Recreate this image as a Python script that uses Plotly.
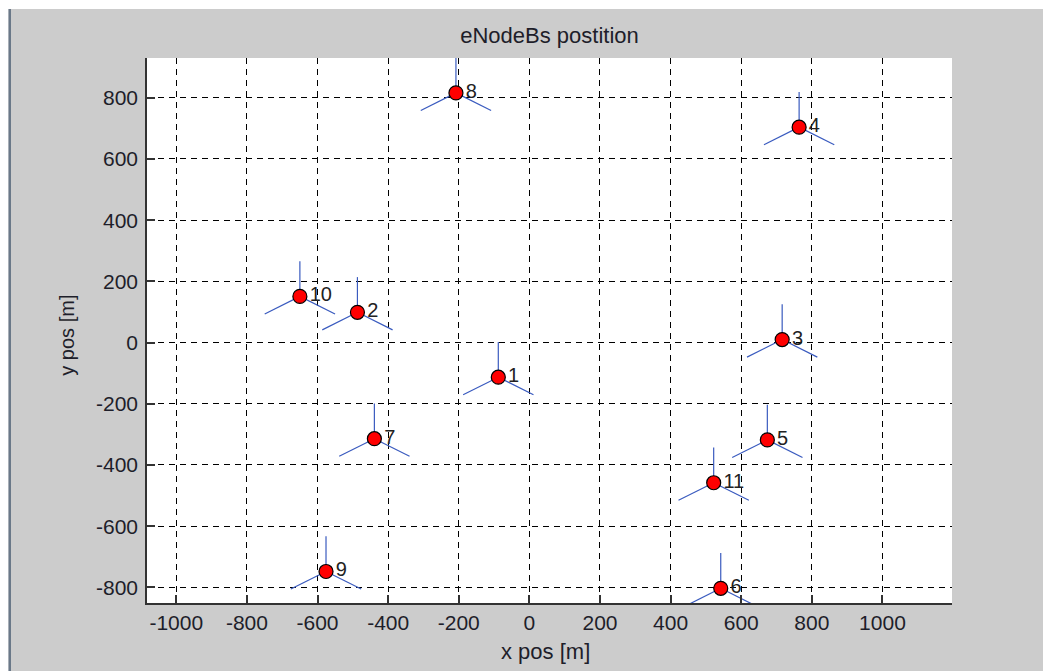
import numpy as np
import plotly.graph_objects as go

# ---- data ----
node_ids = [1, 2, 3, 4, 5, 6, 7, 8, 9, 10, 11]
node_x = [-88, -487, 716, 764, 674, 542, -439, -208, -576, -650, 522]
node_y = [-113, 99, 10, 704, -318, -803, -314, 816, -748, 151, -458]
sector_azimuth_deg = [90, 210, 330]
sector_len = 115

x_ticks = [-1000, -800, -600, -400, -200, 0, 200, 400, 600, 800, 1000]
y_ticks = [-800, -600, -400, -200, 0, 200, 400, 600, 800]
x_range = [-1083, 1197]
y_range = [-851, 930]

# ---- sector lines ----
seg_x, seg_y = [], []
for x0, y0 in zip(node_x, node_y):
    for az in sector_azimuth_deg:
        a = np.deg2rad(az)
        seg_x += [x0, x0 + sector_len * np.cos(a), None]
        seg_y += [y0, y0 + sector_len * np.sin(a), None]

fig = go.Figure()
fig.add_trace(go.Scatter(x=seg_x, y=seg_y, mode="lines",
                         line=dict(color="#3a5bbf", width=1.2),
                         hoverinfo="skip", showlegend=False))
fig.add_trace(go.Scatter(x=node_x, y=node_y, mode="markers+text",
                         text=[str(i) for i in node_ids],
                         textposition="middle right",
                         textfont=dict(family="Liberation Sans, Arial", size=20, color="#222222"),
                         marker=dict(color="#ff0000", size=14,
                                     line=dict(color="#000000", width=1.2)),
                         showlegend=False, cliponaxis=False))

L, R, T, B = 147, 91, 58, 68
W, H = 1043, 671
pw = W - L - R
ph = H - T - B

def px2paper_x(px):
    return (px - L) / pw

def py2paper_y(py):
    return (H - B - py) / ph

font_family = "Liberation Sans, Arial, sans-serif"
axis_common = dict(showgrid=True, gridcolor="#000000", gridwidth=1, griddash="6px,5px",
                   zeroline=False, showline=True, linecolor="#333333", linewidth=1.5,
                   ticks="inside", ticklen=8, tickcolor="#333333", tickwidth=1.5,
                   mirror=False, tickfont=dict(family=font_family, size=21, color="#1e1e2a"))

fig.update_layout(
    width=W, height=H,
    margin=dict(l=L, r=R, t=T, b=B, pad=0),
    paper_bgcolor="#cccccc", plot_bgcolor="#ffffff",
    title=dict(text="eNodeBs postition", x=0.5, xref="paper", xanchor="center",
               y=1 - 35.5 / H, yref="container", yanchor="middle",
               font=dict(family=font_family, size=22, color="#1e1e2a")),
    xaxis=dict(range=x_range, tickvals=x_ticks, ticktext=[str(v) for v in x_ticks],
               ticklabelstandoff=0, **axis_common),
    yaxis=dict(range=y_range, tickvals=y_ticks, ticktext=[str(v) for v in y_ticks],
               ticklabelstandoff=3, **axis_common),
    annotations=[
        dict(text="x pos [m]", xref="paper", yref="paper",
             x=px2paper_x(545.7), y=py2paper_y(651.7), xanchor="center", yanchor="middle",
             showarrow=False, font=dict(family=font_family, size=22, color="#1e1e2a")),
        dict(text="y pos [m]", xref="paper", yref="paper", textangle=-90,
             x=px2paper_x(66.7), y=py2paper_y(335), xanchor="center", yanchor="middle",
             showarrow=False, font=dict(family=font_family, size=20, color="#1e1e2a")),
    ],
    shapes=[
        dict(type="rect", xref="paper", yref="paper", layer="below",
             x0=px2paper_x(0), x1=px2paper_x(W), y0=py2paper_y(0), y1=py2paper_y(9),
             fillcolor="#ffffff", line=dict(width=0)),
        dict(type="rect", xref="paper", yref="paper", layer="below",
             x0=px2paper_x(0), x1=px2paper_x(8.5), y0=py2paper_y(0), y1=py2paper_y(H),
             fillcolor="#ffffff", line=dict(width=0)),
        dict(type="rect", xref="paper", yref="paper", layer="below",
             x0=px2paper_x(8.5), x1=px2paper_x(11), y0=py2paper_y(9), y1=py2paper_y(H),
             fillcolor="#6a7888", line=dict(width=0)),
    ],
)

fig.write_html("out.html")
